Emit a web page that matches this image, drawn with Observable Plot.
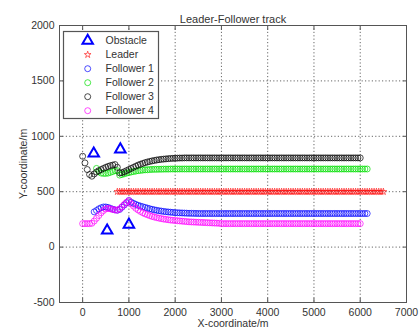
<!DOCTYPE html>
<html><head><meta charset="utf-8">
<script src="https://cdn.jsdelivr.net/npm/d3@7"></script>
<script src="https://cdn.jsdelivr.net/npm/@observablehq/plot@0.6"></script>
<style>
html,body{margin:0;padding:0;background:#fff;}
#chart{width:419px;height:329px;}
</style></head><body><div id="chart"></div>
<script>
// shared x sampling grid (m)
const xGrid = [
  0,50,100,150,200,250,300,350,400,450,
  500,550,600,650,700,750,800,850,900,950,
  1000,1050,1100,1150,1200,1250,1300,1350,1400,1450,
  1500,1550,1600,1650,1700,1750,1800,1850,1900,1950,
  2000,2050,2100,2150,2200,2250,2300,2350,2400,2450,
  2500,2550,2600,2650,2700,2750,2800,2850,2900,2950,
  3000,3050,3100,3150,3200,3250,3300,3350,3400,3450,
  3500,3550,3600,3650,3700,3750,3800,3850,3900,3950,
  4000,4050,4100,4150,4200,4250,4300,4350,4400,4450,
  4500,4550,4600,4650,4700,4750,4800,4850,4900,4950,
  5000,5050,5100,5150,5200,5250,5300,5350,5400,5450,
  5500,5550,5600,5650,5700,5750,5800,5850,5900,5950,
  6000,6050,6100,6150,6200,6250,6300,6350,6400,6450,
  6500
];
const _ = null;
const leaderY = [
  _,_,_,_,_,_,_,_,_,_,
  _,_,_,_,_,500,500,500,500,500,
  500,500,500,500,500,500,500,500,500,500,
  500,500,500,500,500,500,500,500,500,500,
  500,500,500,500,500,500,500,500,500,500,
  500,500,500,500,500,500,500,500,500,500,
  500,500,500,500,500,500,500,500,500,500,
  500,500,500,500,500,500,500,500,500,500,
  500,500,500,500,500,500,500,500,500,500,
  500,500,500,500,500,500,500,500,500,500,
  500,500,500,500,500,500,500,500,500,500,
  500,500,500,500,500,500,500,500,500,500,
  500,500,500,500,500,500,500,500,500,500,
  500
];
const follower1Y = [
  _,_,_,_,_,318,330,345,355,362,
  362,358,350,342,336,333,340,360,380,400,
  420,405,395,385,377,370,364,358,352,346,
  341,336,332,328,325,322,319,317,315,313,
  311,310,309,308,307,306,305,305,304,304,
  303,303,303,303,303,303,303,303,303,303,
  303,303,303,303,303,303,303,303,303,303,
  303,303,303,303,303,303,303,303,303,303,
  303,303,303,303,303,303,303,303,303,303,
  303,303,303,303,303,303,303,303,303,303,
  303,303,303,303,303,303,303,303,303,303,
  303,303,303,303,303,303,303,303,303,303,
  303,303,303,303,_,_,_,_,_,_,
  _
];
const follower2Y = [
  _,_,_,_,_,_,710,682,668,665,
  665,668,675,682,690,690,650,655,662,668,
  673,678,682,686,690,692,695,697,698,700,
  701,702,702,703,703,704,704,704,705,705,
  705,705,705,705,705,705,705,705,705,705,
  705,705,705,705,705,705,705,705,705,705,
  705,705,705,705,705,705,705,705,705,705,
  705,705,705,705,705,705,705,705,705,705,
  705,705,705,705,705,705,705,705,705,705,
  705,705,705,705,705,705,705,705,705,705,
  705,705,705,705,705,705,705,705,705,705,
  705,705,705,705,705,705,705,705,705,705,
  705,705,705,705,_,_,_,_,_,_,
  _
];
const follower3Y = [
  820,760,700,655,640,660,678,690,700,710,
  720,728,735,740,745,720,670,672,680,690,
  700,710,720,730,740,748,755,762,768,773,
  778,782,786,789,792,794,796,798,800,801,
  802,803,804,804,805,805,805,805,805,805,
  805,805,805,805,805,805,805,805,805,805,
  805,805,805,805,805,805,805,805,805,805,
  805,805,805,805,805,805,805,805,805,805,
  805,805,805,805,805,805,805,805,805,805,
  805,805,805,805,805,805,805,805,805,805,
  805,805,805,805,805,805,805,805,805,805,
  805,805,805,805,805,805,805,805,805,805,
  805,_,_,_,_,_,_,_,_,_,
  _
];
const follower4Y = [
  212,212,212,212,215,235,260,285,310,330,
  345,348,345,340,335,333,345,365,385,405,
  420,390,370,350,335,322,310,300,292,284,
  277,271,266,261,257,253,250,247,244,242,
  240,238,236,234,232,230,228,227,226,225,
  224,223,222,221,220,219,218,217,216,215,
  212,212,212,212,212,212,212,212,212,212,
  212,212,212,212,212,212,212,212,212,212,
  212,212,212,212,212,212,212,212,212,212,
  212,212,212,212,212,212,212,212,212,212,
  212,212,212,212,212,212,212,212,212,212,
  212,212,212,212,212,212,212,212,212,212,
  212,_,_,_,_,_,_,_,_,_,
  _
];
const obstacleX = [240, 815, 530, 1000];
const obstacleY = [845, 882, 150, 203];
const xTicks = [0,1000,2000,3000,4000,5000,6000,7000];
const yTicks = [-500,0,500,1000,1500,2000];
const seriesNames = ["Obstacle","Leader","Follower 1","Follower 2","Follower 3","Follower 4"];
const seriesColors = ["#0000ff","#ff0000","#0000ff","#00e000","#000000","#ff00ff"];
const titleText = "Leader-Follower track";
const xLabel = "X-coordinate/m";
const yLabel = "Y-coordinate/m";

const pts = ys => xGrid.map((x, i) => ({x, y: ys[i]})).filter(d => d.y != null);
const obstacles = obstacleX.map((x, i) => ({x, y: obstacleY[i]}));
const follower = [follower1Y, follower2Y, follower3Y, follower4Y];

const font = "'Liberation Sans', Arial, Helvetica, sans-serif";
const fmt = d => String(d);
const R_TRI = 3.9, R_STAR = 2.1, R_CIRC = 3;

const plot = Plot.plot({
  width: 419, height: 329,
  marginLeft: 59, marginRight: 13, marginTop: 25, marginBottom: 27,
  style: {fontFamily: font, fontSize: "10.5px", color: "#333", background: "#fff", overflow: "visible"},
  x: {domain: [-500, 7000]},
  y: {domain: [-500, 2000]},
  marks: [
    Plot.gridX(xTicks, {stroke: "#000", strokeOpacity: 0.6, strokeDasharray: "1.2,2.2"}),
    Plot.gridY(yTicks, {stroke: "#000", strokeOpacity: 0.6, strokeDasharray: "1.2,2.2"}),
    Plot.dot(obstacles, {x: "x", y: "y", symbol: "triangle", r: R_TRI, stroke: seriesColors[0], strokeWidth: 2, fill: "none"}),
    Plot.dot(pts(leaderY), {x: "x", y: "y", symbol: "star", r: R_STAR, stroke: seriesColors[1], strokeWidth: 0.6, fill: "none"}),
    ...follower.map((ys, k) => Plot.dot(pts(ys), {x: "x", y: "y", symbol: "circle", r: R_CIRC, stroke: seriesColors[k + 2], strokeWidth: 0.7, fill: "none"})),
    Plot.frame({stroke: "#555"}),
    Plot.axisX(xTicks, {anchor: "bottom", tickSize: -4, tickPadding: 10, tickFormat: fmt, stroke: "#555",
      label: xLabel, labelAnchor: "center", labelOffset: 24, labelArrow: "none"}),
    Plot.axisX(xTicks, {anchor: "top", tickSize: -4, tickFormat: () => "", stroke: "#555", label: null}),
    Plot.axisY(yTicks, {anchor: "left", tickSize: -4, tickPadding: 9, tickFormat: fmt, stroke: "#555",
      label: yLabel, labelAnchor: "center", labelOffset: 40, labelArrow: "none"}),
    Plot.axisY(yTicks, {anchor: "right", tickSize: -4, tickFormat: () => "", stroke: "#555", label: null}),
    Plot.text([titleText], {frameAnchor: "top", dy: -10, fontSize: 11, fill: "#333"})
  ]
});

// legend box inside the axes (top-left), like MATLAB's legend
const svg = d3.select(plot);
const lg = svg.append("g").attr("font-family", font).attr("font-size", "10.5px").attr("text-anchor", "start");
lg.append("rect").attr("x", 63.5).attr("y", 31.5).attr("width", 95).attr("height", 87)
  .attr("fill", "#fff").attr("stroke", "#555").attr("stroke-width", 1.2);
const legendSymbols = [
  [d3.symbolTriangle, R_TRI, 2],
  [d3.symbolStar, R_STAR, 0.6],
  [d3.symbolCircle, R_CIRC, 0.7],
  [d3.symbolCircle, R_CIRC, 0.7],
  [d3.symbolCircle, R_CIRC, 0.7],
  [d3.symbolCircle, R_CIRC, 0.7]
];
seriesNames.forEach((name, i) => {
  const cy = 40.7 + i * 14;
  const [type, r, sw] = legendSymbols[i];
  lg.append("path").attr("d", d3.symbol(type, Math.PI * r * r)())
    .attr("transform", `translate(87.7,${cy})`)
    .attr("fill", "none").attr("stroke", seriesColors[i]).attr("stroke-width", sw);
  lg.append("text").attr("x", 105.5).attr("y", cy).attr("dy", "0.35em")
    .attr("text-anchor", "start").attr("fill", "#333").text(name);
});

document.getElementById("chart").appendChild(plot);
</script>
</body></html>
